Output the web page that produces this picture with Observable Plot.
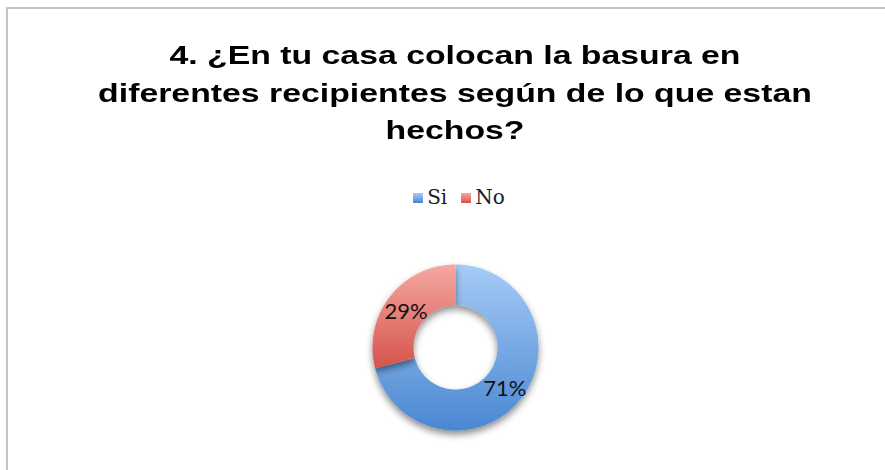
<!DOCTYPE html>
<html>
<head>
<meta charset="utf-8">
<script src="https://cdn.jsdelivr.net/npm/d3@7"></script>
<script src="https://cdn.jsdelivr.net/npm/@observablehq/plot@0.6"></script>
<style>
  html, body { margin: 0; padding: 0; background: #fff; width: 885px; height: 470px; overflow: hidden; }
  #frame { position: absolute; left: 6px; top: 7px; width: 920px; height: 500px;
           border-left: 2px solid #c4c4c4; border-top: 2px solid #c4c4c4; box-sizing: border-box; }
  #title { position: absolute; left: 0; top: 37px; width: 910px; text-align: center;
           font-family: "Liberation Sans", Arial, sans-serif; font-weight: bold; font-size: 26px;
           line-height: 37.5px; color: #000; transform: scaleX(1.3); transform-origin: 455px 0; }
  #legend { position: absolute; top: 185px; left: 4px; width: 910px; text-align: center;
            font-family: "DejaVu Serif", serif; font-size: 20px; color: #1a1a2a; }
  #legend span.item { margin: 0 7px; }
  #legend span.sw { display: inline-block; width: 10px; height: 10px; margin-right: 4px; vertical-align: 1px; }
  #chart { position: absolute; left: 0; top: 240px; }
</style>
</head>
<body>
<div id="frame"></div>
<div id="title"></div>
<div id="legend"></div>
<div id="chart"></div>
<script>
const titleLines = ["4. ¿En tu casa colocan la basura en", "diferentes recipientes según de lo que estan", "hechos?"];
const categories = ["Si", "No"];
const values = [71, 29];
const labels = ["71%", "29%"];
const colorsTop = ["#a6cbf6", "#f5a8a3"];
const colorsBottom = ["#4a87d2", "#d5544b"];

document.getElementById("title").innerHTML = titleLines.join("<br>");
document.getElementById("legend").innerHTML = categories.map((c, i) =>
  `<span class="item"><span class="sw" style="background:linear-gradient(${colorsTop[i]},${colorsBottom[i]})"></span>${c}</span>`).join("");

const W = 885, H = 220, cx = 455, cy = 107, R = 83, r = 42;
const arcs = d3.pie().sort(null)(values);
const pts = [];
arcs.forEach((a, i) => {
  const n = Math.max(8, Math.round((a.endAngle - a.startAngle) * 60));
  for (let k = 0; k <= n; k++) {
    const t = a.startAngle + (a.endAngle - a.startAngle) * k / n;
    pts.push({cat: categories[i], x: R * Math.sin(t), y: R * Math.cos(t)});
  }
  for (let k = n; k >= 0; k--) {
    const t = a.startAngle + (a.endAngle - a.startAngle) * k / n;
    pts.push({cat: categories[i], x: r * Math.sin(t), y: r * Math.cos(t)});
  }
});
const labelData = arcs.map((a, i) => {
  const m = (a.startAngle + a.endAngle) / 2, rm = (R + r) / 2;
  return {label: labels[i], x: rm * Math.sin(m), y: rm * Math.cos(m)};
});

const chart = Plot.plot({
  width: W, height: H, margin: 0,
  x: {domain: [-cx, W - cx], range: [0, W], axis: null},
  y: {domain: [-(H - cy), cy], range: [H, 0], axis: null},
  marks: [
    ...categories.map((c, i) => Plot.line(pts.filter(d => d.cat === c), {x: "x", y: "y", fill: `url(#g${i})`, stroke: "none"})),
    Plot.text(labelData, {x: "x", y: "y", text: "label", dy: 3, fontSize: 22, fontFamily: "Lato, sans-serif", fill: "#111"})
  ]
});
const svg = d3.select(chart);
const defs = svg.insert("defs", ":first-child");
categories.forEach((c, i) => {
  const g = defs.append("linearGradient").attr("id", `g${i}`).attr("x1", 0).attr("y1", 0).attr("x2", 0).attr("y2", 1);
  g.append("stop").attr("offset", "0%").attr("stop-color", colorsTop[i]);
  g.append("stop").attr("offset", "100%").attr("stop-color", colorsBottom[i]);
});
const f = defs.append("filter").attr("id", "shadow").attr("x", "-20%").attr("y", "-20%").attr("width", "140%").attr("height", "140%");
f.append("feDropShadow").attr("dx", 0).attr("dy", 4).attr("stdDeviation", 3.5).attr("flood-color", "#000").attr("flood-opacity", 0.45);
svg.selectAll('g[aria-label="line"]').attr("filter", "url(#shadow)");
document.getElementById("chart").appendChild(chart);
</script>
</body>
</html>
